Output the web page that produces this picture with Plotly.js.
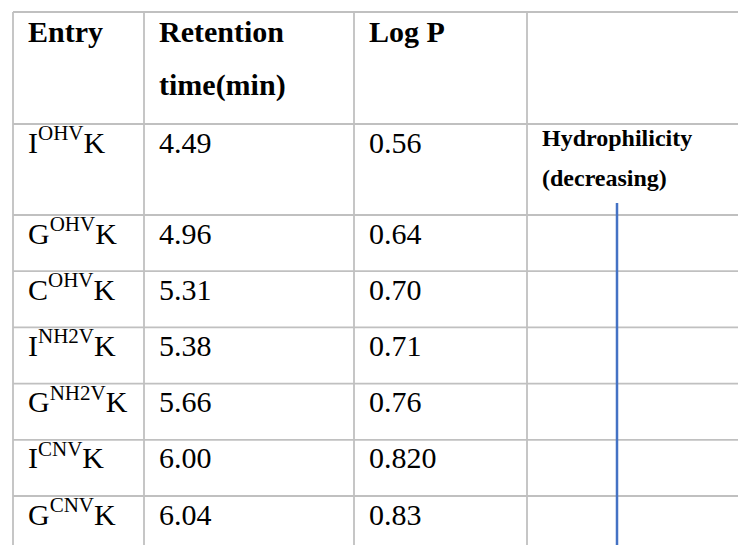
<!DOCTYPE html>
<html><head><meta charset="utf-8">
<script src="https://cdn.plot.ly/plotly-3.0.1.min.js"></script>
<style>html,body{margin:0;padding:0;background:#fff;} #chart{width:738px;height:545px;}</style>
</head><body><div id="chart"></div>
<script>
// ---- data ----
const headerLines = [["Entry"], ["Retention", "time(min)"], ["Log P"], []];
const entryBase = ["I", "G", "C", "I", "G", "I", "G"];
const entrySup = ["OHV", "OHV", "OHV", "NH2V", "NH2V", "CNV", "CNV"];
const entrySuffix = ["K", "K", "K", "K", "K", "K", "K"];
const retentionTime = ["4.49", "4.96", "5.31", "5.38", "5.66", "6.00", "6.04"];
const logP = ["0.56", "0.64", "0.70", "0.71", "0.76", "0.820", "0.83"];
const trendLabel = ["Hydrophilicity", "(decreasing)"];

// ---- layout geometry (pixels) ----
const W = 738, H = 545;
const colEdges = [13, 144, 354, 527, 770];
const tableTop = 12;
const rowHeights = [112, 91, 56.2, 56.2, 56.2, 56.2, 56.2, 56.2];
const rowTops = [tableTop];
rowHeights.forEach(h => rowTops.push(rowTops[rowTops.length - 1] + h));
const padX = 15, baseOff = 36, headerBaseOff = 37, headerLineGap = 53;
const trendBaseOff = 28, trendLineGap = 40;
const FONT = '"Liberation Serif", "Times New Roman", Times, serif';
const gridColor = "#c0c0c0", arrowColor = "#4472c4";

// header
const hx = [], hy = [], ht = [];
headerLines.forEach((lines, c) => lines.forEach((t, l) => {
  hx.push(colEdges[c] + padX); hy.push(rowTops[0] + headerBaseOff + l * headerLineGap); ht.push(t);
}));

const rowY = retentionTime.map((_, i) => rowTops[i + 1] + baseOff);
const entryText = entryBase.map((b, i) => b + '<sup>' + entrySup[i] + '</sup>' + entrySuffix[i]);

function textTrace(xs, ys, texts, size, weight) {
  return {
    type: "scatter", mode: "text", x: xs, y: ys, text: texts,
    textposition: "top right", hoverinfo: "skip", showlegend: false,
    textfont: {family: FONT, size: size, color: "#000", weight: weight}
  };
}

const traces = [
  textTrace(hx, hy, ht, 30, 700),
  textTrace(rowY.map(() => colEdges[0] + padX), rowY, entryText, 30, 400),
  textTrace(rowY.map(() => colEdges[1] + padX), rowY, retentionTime, 30, 400),
  textTrace(rowY.map(() => colEdges[2] + padX), rowY, logP, 30, 400),
  textTrace(trendLabel.map(() => colEdges[3] + padX),
            trendLabel.map((_, l) => rowTops[1] + trendBaseOff + l * trendLineGap), trendLabel, 24, 700)
];

const shapes = [];
rowTops.forEach(y => shapes.push({type: "line", xref: "x", yref: "y", x0: colEdges[0], x1: colEdges[4], y0: y, y1: y,
  line: {color: gridColor, width: 1.8}, layer: "below"}));
colEdges.slice(0, 4).forEach(x => shapes.push({type: "line", xref: "x", yref: "y", x0: x, x1: x, y0: tableTop, y1: rowTops[rowTops.length - 1],
  line: {color: gridColor, width: 1.8}, layer: "below"}));
// trend arrow line
shapes.push({type: "line", xref: "x", yref: "y", x0: 617, x1: 617, y0: 203, y1: 560,
  line: {color: arrowColor, width: 2.5}});

const layout = {
  width: W, height: H, margin: {l: 0, r: 0, t: 0, b: 0},
  paper_bgcolor: "#fff", plot_bgcolor: "#fff",
  font: {family: FONT},
  xaxis: {range: [0, W], visible: false, fixedrange: true},
  yaxis: {range: [H, 0], visible: false, fixedrange: true},
  shapes: shapes, hovermode: false, showlegend: false
};
Plotly.newPlot("chart", traces, layout, {displayModeBar: false, staticPlot: true});
</script>
</body></html>
